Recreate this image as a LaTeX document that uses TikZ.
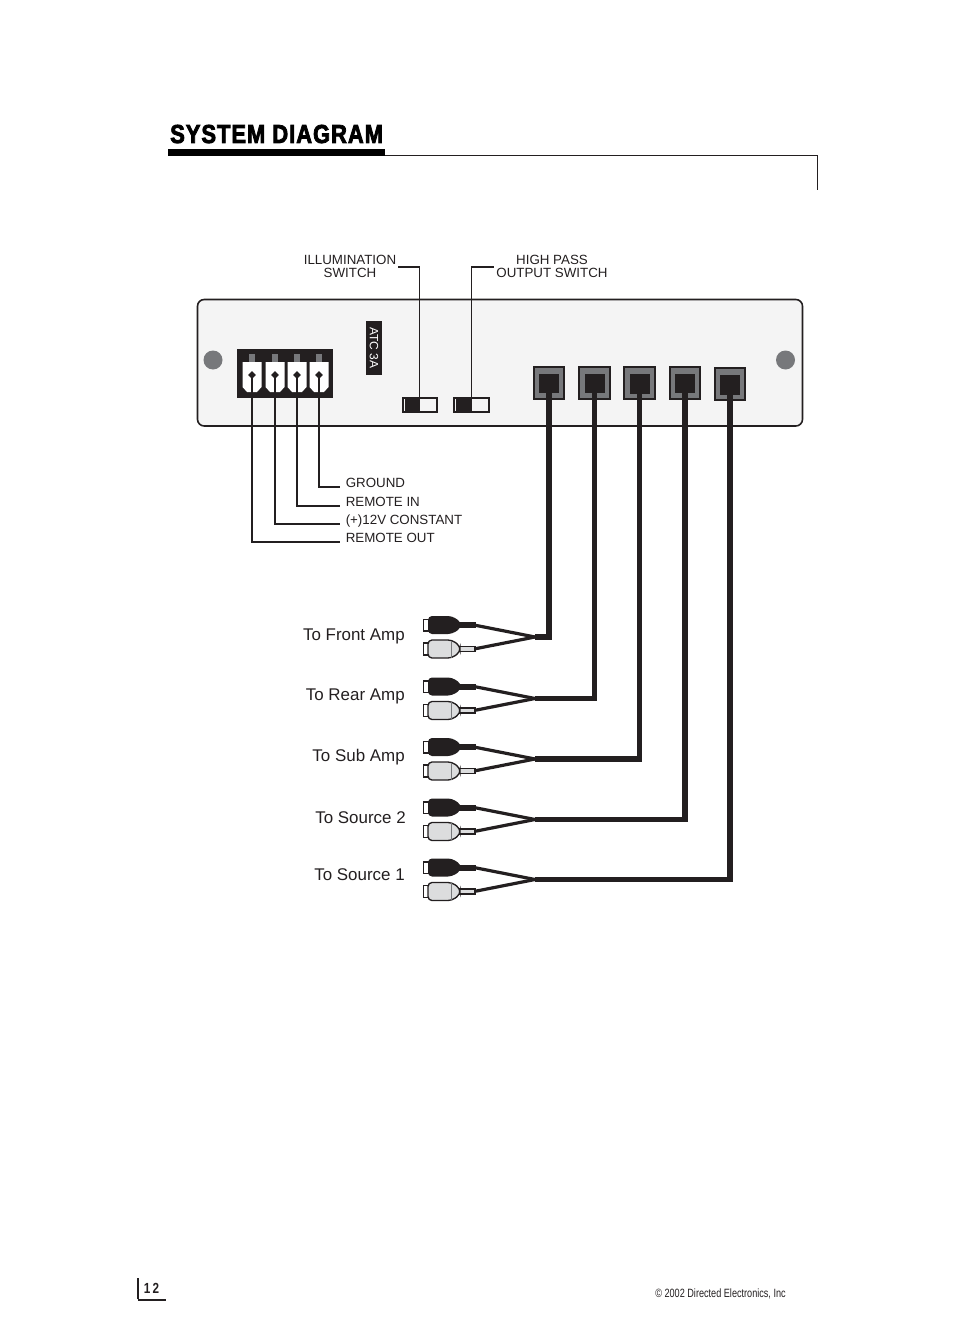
\documentclass[tikz,border=0pt]{standalone}
\usepackage{fontspec}
\setmainfont{Liberation Sans}
\newfontfamily\titlefont[FakeStretch=0.84,FakeBold=3,LetterSpace=4]{Liberation Sans Bold}
\newfontfamily\footfont[FakeStretch=0.76]{Liberation Sans}
\newfontfamily\pagefont[FakeStretch=0.8]{Liberation Sans Bold}
\usetikzlibrary{shapes.geometric}
\definecolor{ink}{HTML}{231F20}
\definecolor{panelgray}{HTML}{F4F4F4}
\definecolor{midgray}{HTML}{77787B}
\definecolor{plugwhite}{HTML}{DCDDDE}
\tikzset{
 smalltext/.style={text=ink, inner sep=0, font=\fontsize{10}{9.75}\selectfont},
 amptext/.style={text=ink, inner sep=0, anchor=east, font=\fontsize{12.7}{15}\selectfont},
 signal/.style={draw=ink, line width=1.4pt, line join=miter},
 thinsignal/.style={draw=ink, line width=1pt, line join=miter},
 cable/.style={draw=ink, line width=4.4pt, line join=miter},
 forkwire/.style={draw=ink, line width=2.4pt},
 portbox/.style={draw=ink, fill=midgray, line width=1.5pt, minimum width=23, minimum height=24, inner sep=0},
 portcore/.style={fill=ink, minimum width=15, minimum height=14.5, inner sep=0},
 hole/.style={circle, fill=midgray, minimum size=14.25, inner sep=0},
 pin/.style={diamond, fill=ink, minimum size=6, inner sep=0},
 switchbox/.style={draw=ink, fill=panelgray, line width=1.4pt, minimum width=26, minimum height=11, inner sep=0},
}
\begin{document}
\begin{tikzpicture}[x=.75pt, y=-.75pt]
\useasboundingbox (0,0) rectangle (954,1330);
% heading
\node[anchor=base west, inner sep=0, text=black, font=\titlefont\fontsize{19.5}{20}\selectfont] (title) at (170,143) {SYSTEM DIAGRAM};
\fill[black] (168,149.5) rectangle (385,156);
\draw[ink, line width=.75pt] (385,155.5) -- (817.5,155.5) -- (817.5,190);
% panel
\draw[ink, fill=panelgray, line width=1.2pt, rounded corners=5] (197.5,299.5) rectangle (802.5,426);
\node[hole] (holeL) at (213,360) {};
\node[hole] (holeR) at (785.5,360) {};
% fuse tag
\fill[ink] (366,321) rectangle (382,375);
\node[rotate=-90, text=white, inner sep=0, font=\fontsize{9}{10}\selectfont] (fuse) at (374,348) {ATC 3A};
% power plug
\fill[ink] (237,349) rectangle (333,398);
\foreach \i/\x in {1/252,2/275,3/297,4/319} {
 \fill[midgray] (\x-3,354) rectangle (\x+3,362);
 \fill[white] (\x-9.5,362) -- (\x+9.5,362) -- (\x+9.5,387) -- (\x+5,392) -- (\x-5,392) -- (\x-9.5,387) -- cycle;
 \node[pin] (pin\i) at (\x,375) {};
}
% switches
\node[switchbox] (swA) at (420,405) {};
\node[switchbox] (swB) at (471.5,405) {};
\fill[ink] (405,398) rectangle (419.5,412);
\fill[ink] (456,398) rectangle (472,412);
\coordinate (swAtop) at (419.5,400);
\coordinate (swBtop) at (471.5,400);
\node[smalltext, align=center] (lblA) at (350,266) {ILLUMINATION\\SWITCH};
\node[smalltext, align=center] (lblB) at (552,266) {HIGH PASS\\OUTPUT SWITCH};
\coordinate (tailA) at (398,267);
\coordinate (tailB) at (494,267);
\draw[thinsignal] (swAtop) |- (tailA);
\draw[signal] (swBtop) |- (tailB);
% power leads
\foreach \i/\y/\txt in {4/487/GROUND,3/506/REMOTE IN,2/524/(+)12V CONSTANT,1/542/REMOTE OUT} {
 \coordinate (tail\i) at (340,\y);
 \draw[signal] (pin\i.center) |- (tail\i);
 \node[smalltext, anchor=base west] (lead\i) at (345.5,\y+.5) {\txt};
}
% outputs
\foreach \i/\x/\y in {1/549/382.5,2/594.5/382.5,3/639.5/383,4/685/382.5,5/730/384} {
 \node[portbox] (port\i) at (\x,\y) {};
 \node[portcore] (core\i) at (\x,\y+1) {};
}
\foreach \i/\fy/\ty/\tx/\txt in {1/637/636/405/To Front Amp,2/698.5/696/405/To Rear Amp,3/759/757/405/To Sub Amp,4/819.5/818/406/To Source 2,5/879.5/875/405/To Source 1} {
 \coordinate (fork\i) at (535,\fy);
 \draw[cable] (core\i.center) |- (fork\i);
 \node[amptext] (amp\i) at (\tx,\ty) {\txt};
 % black plug
 \begin{scope}[shift={(0,\fy)}]
 \coordinate (neckB\i) at (474,-12);
 \coordinate (neckW\i) at (474,12);
 \draw[forkwire] (neckB\i) -- (fork\i);
 \draw[forkwire] (neckW\i) -- (fork\i);
 \draw[ink, fill=white, line width=.9pt] (423.5,-17.5) rectangle (429,-6);
 \fill[ink, rounded corners=3] (428,-21) -- (452,-21) -- (461,-15) -- (461,-9) -- (452,-3) -- (428,-3) -- cycle;
 \fill[ink] (459,-15) rectangle (476,-9);
 % white plug
 \draw[ink, fill=white, line width=.9pt] (423.5,6) rectangle (429,18);
 \draw[ink, fill=plugwhite, line width=.9pt] (459,9.5) rectangle (475,14.5);
 \draw[ink, fill=plugwhite, line width=1pt, rounded corners=3] (428,3) -- (452,3) -- (460,9) -- (460,15) -- (452,21) -- (428,21) -- cycle;
 \draw[midgray, line width=.4pt] (451,3.5) -- (451,20.5);
 \end{scope}
}
% footer
\draw[ink, line width=.8pt] (138,1278) -- (138,1299);
\draw[ink, line width=1.5pt] (137.5,1299.5) -- (166,1299.5);
\node[inner sep=0, text=ink, font=\pagefont\fontsize{11}{12}\selectfont] (pagenum) at (151.5,1288) {1\,2};
\node[anchor=east, inner sep=0, text=ink, font=\footfont\fontsize{9}{10}\selectfont] (copy) at (786,1294) {© 2002 Directed Electronics, Inc};
\end{tikzpicture}
\end{document}
